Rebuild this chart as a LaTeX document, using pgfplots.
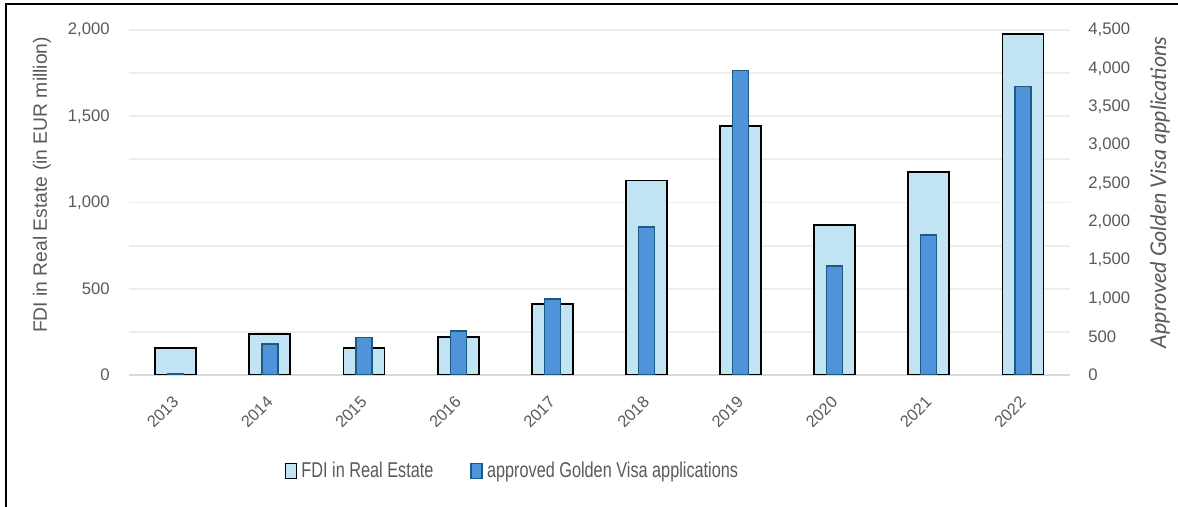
\documentclass[border=0pt]{standalone}
\usepackage{pgfplots}
\pgfplotsset{compat=1.18}
\usepackage{pgfplotstable}
\usepackage{fontspec}
\setmainfont{Liberation Sans}
\newfontfamily\legfont[FakeStretch=0.76]{Liberation Sans}
\newfontfamily\latofont{Lato}
\definecolor{txt}{HTML}{595959}
\definecolor{fdifill}{HTML}{C1E4F5}
\definecolor{gvfill}{HTML}{4F94D8}
\definecolor{gvdraw}{HTML}{1D5B84}
\definecolor{gridc}{HTML}{EDEDED}
\definecolor{basec}{HTML}{D9D9D9}

\pgfplotstableread{
x year fdi gv
0 2013 155 20
1 2014 236 404
2 2015 155 487
3 2016 222 574
4 2017 412 991
5 2018 1127 1930
6 2019 1445 3969
7 2020 871 1422
8 2021 1177 1826
9 2022 1977 3761
}\data

\begin{document}
\begin{tikzpicture}
\path[use as bounding box] (0,0) rectangle (589pt,253.5pt);
\draw[line width=1pt] (3pt,0pt) -- (3pt,251.5pt) -- (589pt,251.5pt);
\pgfplotsset{common/.style={
  scale only axis, width=470.65pt, height=172.5pt,
  at={(64.35pt,66pt)}, anchor=south west,
  xmin=-0.5, xmax=9.5, ymin=0,
  major tick length=0pt, minor tick length=0pt,
  tick label style={font=\fontsize{8.35pt}{10pt}\selectfont, text=txt},
  /pgf/number format/assume math mode=true,
  /pgf/number format/1000 sep={,},
  axis line style={draw=none},
  label style={text=txt},
}}

\begin{axis}[common,
  ymax=2000,
  ytick={500,1000,1500,2000},
  minor ytick={250,750,1250,1750},
  extra y ticks={0},
  extra y tick style={grid style={basec, line width=1pt}},
  ymajorgrids, yminorgrids,
  grid style={gridc, line width=0.9pt},
  minor grid style={gridc, line width=0.9pt},
  axis y line*=left, axis x line*=bottom,
  xtick={0,...,9},
  xticklabels={2013,2014,2015,2016,2017,2018,2019,2020,2021,2022},
  xticklabel style={rotate=45, anchor=east, inner sep=0pt, xshift=-8.4pt, yshift=-8.5pt, font=\fontsize{8.2pt}{10pt}\selectfont},
  yticklabel style={inner sep=0pt, xshift=-9.3pt},
  ylabel={FDI in Real Estate (in EUR million)},
  ylabel style={font=\fontsize{9.65pt}{12pt}\selectfont, at={(axis description cs:-0.0921,0.551)}, anchor=center},
]
\addplot[ybar, bar width=20.5pt, bar shift=0pt, fill=fdifill, draw=black, line width=0.9pt] table[x=x, y=fdi]{\data};
\end{axis}

\begin{axis}[common,
  ymax=4500,
  ytick={0,500,...,4500},
  axis y line*=right, axis x line=none,
  yticklabel style={inner sep=0pt, xshift=9pt},
  ylabel={Approved Golden Visa applications},
  ylabel style={font=\latofont\itshape\fontsize{10.8pt}{12pt}\selectfont, at={(axis description cs:1.0956,0.529)}, anchor=center, rotate=0},
  legend style={at={(axis description cs:0.4088,-0.278)}, anchor=center, draw=none, fill=none,
    font=\legfont\fontsize{10.7pt}{12pt}\selectfont, text=txt,
    /tikz/every even column/.append style={column sep=16.5pt}},
  legend columns=2,
  legend cell align=left,
]
\addlegendimage{legend image code/.code={\draw[fill=fdifill, draw=black, line width=0.8pt] (0pt,-3.75pt) rectangle (5.5pt,3.75pt);}}
\addlegendentry{FDI in Real Estate}
\addplot[ybar, bar width=8pt, bar shift=0pt, fill=gvfill, draw=gvdraw, line width=0.6pt,
  legend image code/.code={\draw[fill=gvfill, draw=gvdraw, line width=0.8pt] (0pt,-3.75pt) rectangle (5.5pt,3.75pt);}] table[x=x, y=gv]{\data};
\addlegendentry{approved Golden Visa applications}
\end{axis}
\end{tikzpicture}
\end{document}
